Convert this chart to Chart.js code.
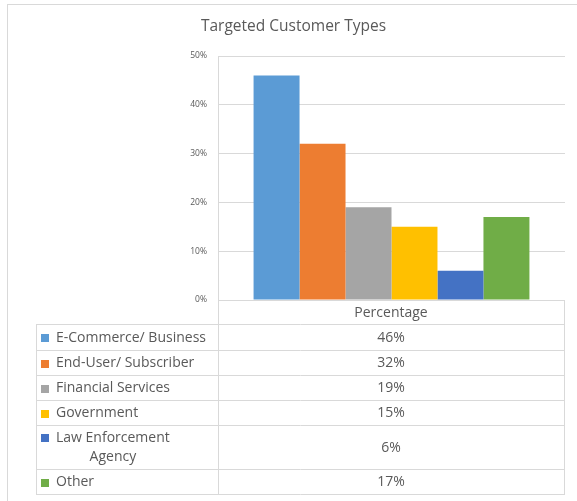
<!DOCTYPE html>
<html>
<head>
<meta charset="utf-8">
<script src="https://cdn.jsdelivr.net/npm/chart.js@4"></script>
<style>
  html, body { margin: 0; padding: 0; background: #fff; }
  #wrap { width: 577px; height: 501px; }
</style>
</head>
<body>
<div id="wrap"><canvas id="chart1" width="577" height="501"></canvas></div>
<script>
const categories = ['E-Commerce/ Business', 'End-User/ Subscriber', 'Financial Services', 'Government', 'Law Enforcement Agency', 'Other'];
const values = [46, 32, 19, 15, 6, 17];
const xLabels = ['Percentage'];
const colors = ['#5B9BD5', '#ED7D31', '#A5A5A5', '#FFC000', '#4472C4', '#70AD47'];
const yMin = 0, yMax = 50, yStep = 10;

const textColor = '#595959';
const lineColor = '#D9D9D9';
const fontFamily = '"Open Sans", sans-serif';

// white background + outer frame
const framePlugin = {
  id: 'frame',
  beforeDraw(chart) {
    const c = chart.ctx;
    c.save();
    c.fillStyle = '#fff';
    c.fillRect(0, 0, chart.width, chart.height);
    c.strokeStyle = lineColor;
    c.lineWidth = 1;
    c.strokeRect(7.5, 4.5, chart.width + 10, chart.height + 10);
    c.restore();
  }
};

// data table under the plot (Excel style)
function wrapText(c, text, maxW) {
  const words = text.split(' ');
  const lines = [];
  let cur = '';
  words.forEach(w => {
    const t = cur ? cur + ' ' + w : w;
    if (cur && c.measureText(t).width > maxW) { lines.push(cur); cur = w; }
    else cur = t;
  });
  lines.push(cur);
  return lines;
}

const tablePlugin = {
  id: 'dataTable',
  afterDraw(chart) {
    const c = chart.ctx;
    const area = chart.chartArea;
    const left = 36, mid = Math.round(area.left), right = Math.round(area.right) - 1;
    const headH = 24, lineH = 19;
    c.save();
    c.font = '14px ' + fontFamily;
    c.textBaseline = 'middle';

    // rows
    const rows = chart.data.datasets.map((ds, i) => {
      const lines = wrapText(c, ds.label, 158);
      return { ds, lines, h: lines.length > 1 ? 44 : (i === 0 ? 26 : 25) };
    });

    c.strokeStyle = lineColor;
    c.lineWidth = 1;
    let y = Math.round(area.bottom);
    const top = y;
    // header row
    c.fillStyle = textColor;
    c.textAlign = 'center';
    c.fillText(chart.data.labels[0], (mid + right) / 2, y + headH / 2 + 1);
    y += headH;
    const hLines = [y];
    rows.forEach(r => {
      const cy = y + r.h / 2 + 1;
      // legend key
      const firstY = r.lines.length > 1 ? y + 13 : cy;
      c.fillStyle = r.ds.backgroundColor;
      c.fillRect(41, Math.round(firstY - 4), 8, 8);
      // label lines
      c.fillStyle = textColor;
      const w0 = Math.max(...r.lines.map(l => c.measureText(l).width));
      r.lines.forEach((l, i) => {
        const ly = r.lines.length > 1 ? y + 13 + i * lineH : cy;
        if (i === 0) { c.textAlign = 'left'; c.fillText(l, 56, ly); }
        else { c.textAlign = 'center'; c.fillText(l, 56 + w0 / 2, ly); }
      });
      // value
      c.textAlign = 'center';
      c.fillText(r.ds.data[0] + '%', (mid + right) / 2, cy);
      y += r.h;
      hLines.push(y);
    });

    c.beginPath();
    c.moveTo(mid + 0.5, top); c.lineTo(mid + 0.5, y + 0.5);
    c.moveTo(right + 0.5, top); c.lineTo(right + 0.5, y + 0.5);
    c.moveTo(left + 0.5, hLines[0]); c.lineTo(left + 0.5, y + 0.5);
    hLines.forEach(hy => { c.moveTo(left, hy + 0.5); c.lineTo(right + 1, hy + 0.5); });
    c.stroke();
    c.restore();
  }
};

const ctx = document.getElementById('chart1').getContext('2d');
const myChart = new Chart(ctx, {
  type: 'bar',
  data: {
    labels: xLabels,
    datasets: categories.map((name, i) => ({
      label: name,
      data: [values[i]],
      backgroundColor: colors[i],
      borderWidth: 0,
      categoryPercentage: 0.795, // space between group and axis
      barPercentage: 1.0
    }))
  },
  options: {
    responsive: false,
    animation: false,
    devicePixelRatio: 1,
    layout: {
      padding: { left: 22, right: 12, top: 0, bottom: 201 }
    },
    plugins: {
      legend: { display: false },
      tooltip: { enabled: false },
      title: {
        display: true,
        text: 'Targeted Customer Types',
        color: textColor,
        font: { family: fontFamily, size: 15.5, weight: 'normal', lineHeight: 1.2 },
        padding: { top: 17.5, bottom: 19.9 }
      }
    },
    scales: {
      x: {
        display: false
      },
      y: {
        min: yMin,
        max: yMax,
        afterFit(scale) { scale.width = 196; },
        ticks: {
          stepSize: yStep,
          padding: 11,
          color: textColor,
          font: { family: fontFamily, size: 8.5 },
          callback: function(value) { return value + '%'; }
        },
        grid: {
          color: lineColor,
          drawTicks: false
        },
        border: { display: true, color: lineColor }
      }
    }
  },
  plugins: [framePlugin, tablePlugin]
});
</script>
</body>
</html>
